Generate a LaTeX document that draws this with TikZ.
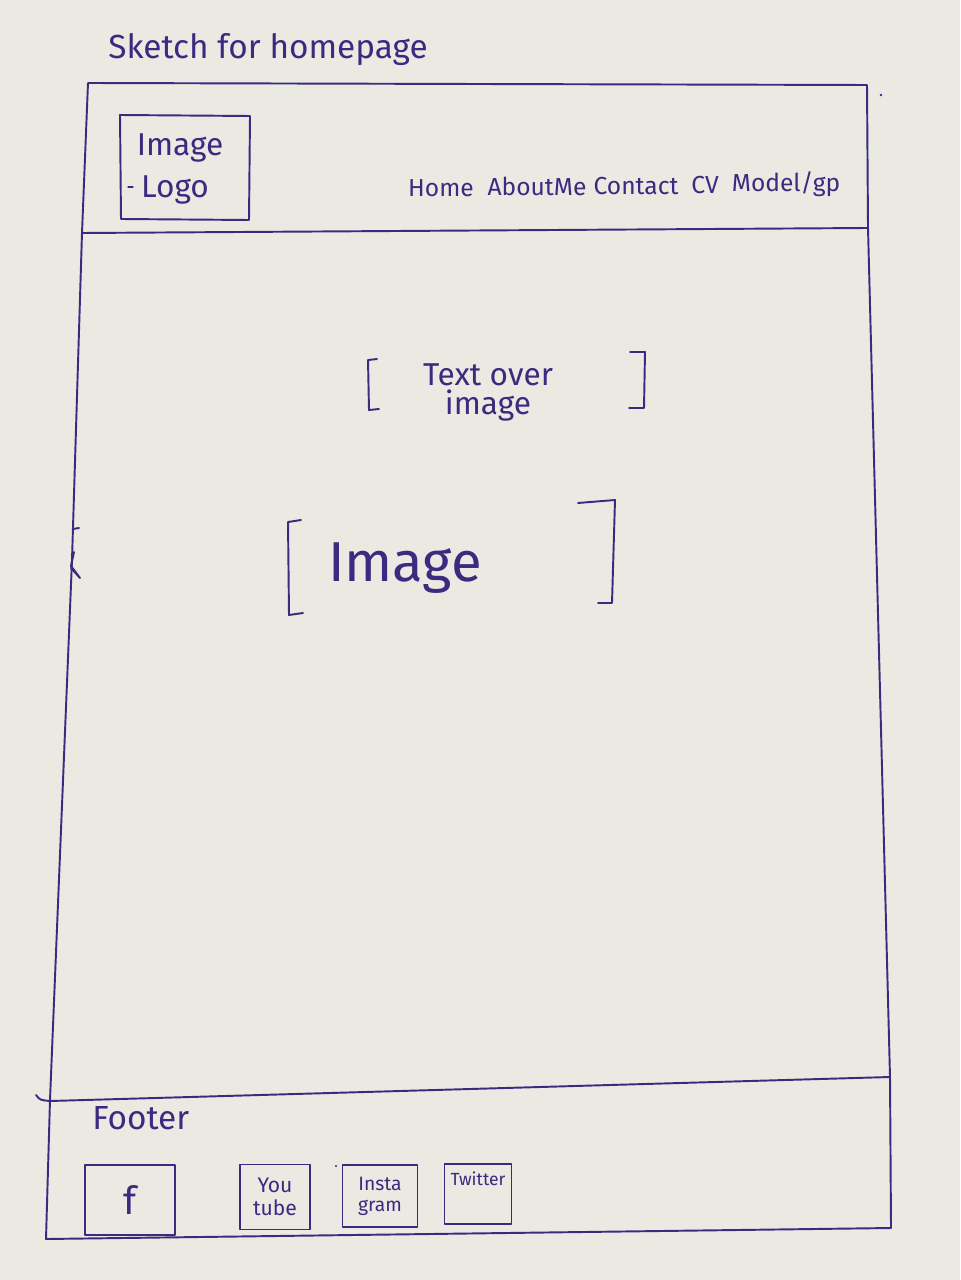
\documentclass[tikz,border=0pt]{standalone}
\usepackage{fontspec}
\setmainfont{Fira Sans}
\begin{document}
\begin{tikzpicture}[x=0.02cm,y=-0.02cm,
  ink/.style={draw=inkc,line width=1.1pt,line cap=round,line join=round},
  txt/.style={text=inkc,inner sep=0pt,align=center},
  iconbox/.style={ink,inner sep=0pt,align=center,text=inkc}]
\definecolor{paper}{RGB}{234,234,227}
\definecolor{inkc}{RGB}{58,42,128}
% page
\fill[paper] (0,0) rectangle (960,1280);
\useasboundingbox (0,0) rectangle (960,1280);

% title
\node[txt,font=\fontsize{19}{22}\selectfont,anchor=west] (title) at (108,50) {Sketch for homepage};

% outer frame of the page
\draw[ink] (88,83) -- (867,85) -- (868,228) -- (890,1077) -- (891,1228)
  -- (46,1239) -- (50,1100) -- (72,560) -- (82,233) -- cycle;
\fill[inkc] (881,95) circle (1.3);
% header and footer separators
\draw[ink] (82,233) -- (867,228);
\draw[ink] (36,1095) .. controls (40,1100) .. (50,1101) -- (890,1077);
% small marks on the left edge
\draw[ink] (73,529) -- (79,528);
\draw[ink] (74,552) -- (71,566) -- (80,578) -- (71,568);

% logo box
\draw[ink] (120,115) -- (250,116) -- (249,220) -- (121,219) -- cycle;
\node[txt,font=\fontsize{18}{20}\selectfont] (logoimg) at (180,148) {Image};
\node[txt,font=\fontsize{18}{20}\selectfont] (logotxt) at (175,190) {Logo};
\draw[ink,line width=0.6pt] (128,187) -- (133,187);

% navigation
\begin{scope}[every node/.style={txt,font=\fontsize{14}{16}\selectfont}]
\node (home) at (441,188) {Home};
\node (about) at (537,186) {AboutMe};
\node (contact) at (636,186) {Contact};
\node (cv) at (705,185) {CV};
\node (model) at (786,184) {Model/gp};
\end{scope}

% hero text between brackets
\draw[ink] (377,359) -- (368,360) -- (369,410) -- (379,409);
\draw[ink] (630,352) -- (645,352) -- (644,408) -- (629,408);
\node[txt,font=\fontsize{18}{20}\selectfont] (textover) at (488,375) {Text over};
\node[txt,font=\fontsize{18}{20}\selectfont] (image) at (488,406) {image};

% main image placeholder
\draw[ink] (301,520) -- (288,522) -- (289,615) -- (303,613);
\draw[ink] (578,503) -- (615,500) -- (612,603) -- (598,603);
\node[txt,font=\fontsize{32}{36}\selectfont] (mainimage) at (405,568) {Image};

% footer
\node[txt,font=\fontsize{19}{22}\selectfont,anchor=west] (footer) at (92,1118) {Footer};
\node[iconbox,minimum width=1.8cm,minimum height=1.4cm,font=\fontsize{22}{24}\selectfont] (fb) at (130,1200) {f};
\node[iconbox,minimum width=1.4cm,minimum height=1.3cm,font=\fontsize{12}{13}\selectfont] (yt) at (275,1197) {You\\tube};
\node[iconbox,minimum width=1.5cm,minimum height=1.25cm,font=\fontsize{11}{12}\selectfont] (ig) at (380,1196) {Insta\\gram};
\node[iconbox,minimum width=1.34cm,minimum height=1.2cm,font=\fontsize{10}{11}\selectfont,text depth=18pt] (tw) at (478,1194) {Twitter};
\fill[inkc] (336,1166) circle (1.2);
\end{tikzpicture}
\end{document}
